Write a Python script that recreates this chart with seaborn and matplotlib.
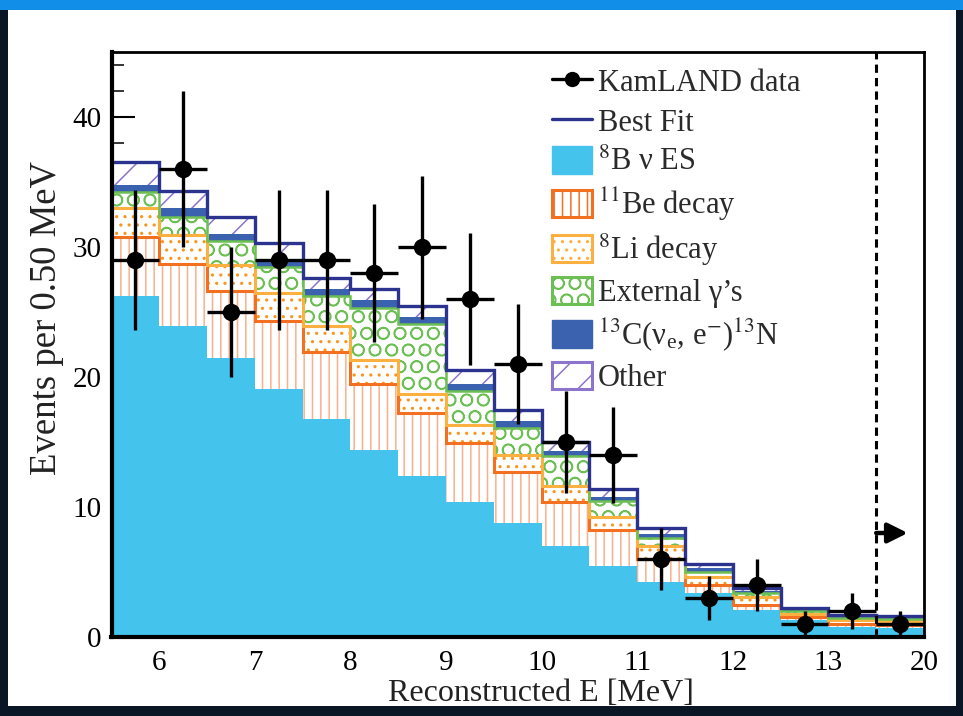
import numpy as np
import pandas as pd
import matplotlib
matplotlib.use("Agg")
import matplotlib.pyplot as plt
import seaborn as sns
from matplotlib.lines import Line2D
from matplotlib.patches import Patch, Rectangle
from matplotlib.ticker import MultipleLocator, FixedLocator

# ---------------- data ----------------
# 0.5 MeV bins from 5.5 to 13.5 MeV, last bin is 13.5-20 MeV drawn as 13.5-14
bin_edges = [5.5, 6.0, 6.5, 7.0, 7.5, 8.0, 8.5, 9.0, 9.5, 10.0, 10.5,
             11.0, 11.5, 12.0, 12.5, 13.0, 13.5, 14.0]
tick_positions = [6, 7, 8, 9, 10, 11, 12, 13, 14]
tick_labels = ["6", "7", "8", "9", "10", "11", "12", "13", "20"]

b8_es = [26.2, 23.9, 21.5, 19.1, 16.8, 14.4, 12.4, 10.4, 8.8, 7.0, 5.5, 4.2, 3.4, 2.1, 1.3, 0.8, 0.7]
be11 = [4.6, 4.8, 5.1, 5.2, 5.1, 5.1, 4.8, 4.5, 3.9, 3.4, 2.7, 1.8, 0.6, 0.4, 0.25, 0.2, 0.25]
li8 = [2.2, 2.2, 2.0, 2.2, 2.0, 1.8, 1.5, 1.4, 1.3, 1.2, 1.0, 1.0, 0.6, 0.6, 0.25, 0.3, 0.25]
ext_gamma = [1.2, 1.4, 1.9, 2.0, 2.3, 4.0, 5.4, 2.6, 2.1, 2.3, 1.3, 0.6, 0.4, 0.3, 0.2, 0.15, 0.15]
c13 = [0.6, 0.7, 0.5, 0.5, 0.6, 0.6, 0.5, 0.6, 0.5, 0.4, 0.3, 0.3, 0.3, 0.15, 0.1, 0.1, 0.1]
other = [1.7, 1.3, 1.3, 1.3, 0.8, 0.9, 0.9, 1.0, 0.9, 0.7, 0.6, 0.5, 0.3, 0.25, 0.15, 0.15, 0.15]

data_counts = [29, 36, 25, 29, 29, 28, 30, 26, 21, 15, 14, 6, 3, 4, 1, 2, 1]
data_err = [5.4, 6.0, 5.0, 5.4, 5.4, 5.3, 5.5, 5.1, 4.6, 3.9, 3.7, 2.4, 1.7, 2.0, 1.0, 1.4, 1.0]

# ---------------- style ----------------
sns.set_style("ticks")
plt.rcParams["font.family"] = ["Liberation Serif", "DejaVu Serif"]
plt.rcParams["mathtext.fontset"] = "stix"
plt.rcParams["hatch.linewidth"] = 1.1

C_B8 = "#44c3ec"
C_BE_EDGE = "#f37021"
C_BE_HATCH = "#f9b08c"
C_LI_EDGE = "#fbb040"
C_LI_HATCH = "#f6961e"
C_GAM = "#6cbf52"
C_C13 = "#3b62ae"
C_OTH = "#8d74cc"
C_FIT = "#2b338f"

edges = np.array(bin_edges)
centers = 0.5 * (edges[:-1] + edges[1:])
stack = np.cumsum(np.vstack([b8_es, be11, li8, ext_gamma, c13, other]), axis=0)

fig = plt.figure(figsize=(9.63, 7.16), dpi=100)
fig.patch.set_facecolor("white")
ax = fig.add_axes([111.5 / 963, 1 - 637 / 716, 812.5 / 963, 585 / 716])

layers = [
    (stack[5], dict(facecolor="white", edgecolor=C_OTH, hatch="/")),
    (stack[4], dict(facecolor=C_C13, edgecolor=C_C13)),
    (stack[3], dict(facecolor="white", edgecolor=C_GAM, hatch="O")),
    (stack[2], dict(facecolor="white", edgecolor=C_LI_HATCH, hatch="..")),
    (stack[1], dict(facecolor="white", edgecolor=C_BE_HATCH, hatch="||")),
    (stack[0], dict(facecolor=C_B8, edgecolor=C_B8)),
]
for i, (vals, kw) in enumerate(layers):
    df = pd.DataFrame({"E": centers, "w": vals})
    sns.histplot(data=df, x="E", weights="w", bins=bin_edges, element="step",
                 fill=True, alpha=1, linewidth=0, ax=ax, zorder=1 + i, **kw)

# outlines of components
ax.stairs(stack[1], edges, baseline=None, color=C_BE_EDGE, lw=2.2, zorder=8)
ax.stairs(stack[2], edges, baseline=None, color=C_LI_EDGE, lw=2.2, zorder=8)
ax.stairs(stack[3], edges, baseline=None, color=C_GAM, lw=1.8, zorder=8)
ax.stairs(stack[5], edges, baseline=None, color=C_FIT, lw=2.4, zorder=9)

# data
ax.errorbar(centers, data_counts, yerr=data_err, xerr=0.25, fmt="o",
            color="black", ms=11.5, elinewidth=2.4, capsize=0, zorder=12)

# threshold marker
ax.axvline(13.5, color="black", ls=(0, (2.7, 1.7)), lw=2.2, zorder=11)
ax.annotate("", xy=(13.83, 8), xytext=(13.5, 8),
            arrowprops=dict(arrowstyle="-|>", color="black", lw=3.2,
                            mutation_scale=30, shrinkA=0, shrinkB=0), zorder=12)

ax.set_xlim(5.5, 14)
ax.set_ylim(0, 45)
ax.xaxis.set_major_locator(FixedLocator(tick_positions))
ax.set_xticklabels(tick_labels)
ax.xaxis.set_minor_locator(MultipleLocator(0.2))
ax.yaxis.set_major_locator(MultipleLocator(10))
ax.yaxis.set_minor_locator(MultipleLocator(2))
ax.tick_params(axis="x", which="major", direction="in", length=11, width=1.5,
               labelsize=21, pad=9, colors="black")
ax.tick_params(axis="x", which="minor", direction="in", length=5, width=1.3)
ax.tick_params(axis="y", which="major", direction="in", length=16.5, width=1.5,
               labelsize=21, pad=7, colors="black")
ax.tick_params(axis="y", which="minor", direction="in", length=8.5, width=1.3)
for s in ax.spines.values():
    s.set_visible(True)
    s.set_color("black")
    s.set_linewidth(2.0)
    s.set_zorder(20)
ax.spines["left"].set_linewidth(3)
ax.spines["bottom"].set_linewidth(3)

ax.set_xlabel("Reconstructed E [MeV]", fontsize=23, color="#222222")
ax.set_ylabel("Events per 0.50 MeV", fontsize=26.5, color="#222222")
ax.xaxis.set_label_coords(0.528, -0.072)
ax.yaxis.set_label_coords(-0.058, 0.545)

handles = [
    Line2D([0], [0], color="black", marker="o", ms=10, lw=2.4),
    Line2D([0], [0], color=C_FIT, lw=2.4),
    Patch(facecolor=C_B8, edgecolor=C_B8),
    Patch(facecolor="white", edgecolor=C_BE_EDGE, hatch="||", lw=2.2),
    Patch(facecolor="white", edgecolor=C_LI_EDGE, hatch="..", lw=2.2),
    Patch(facecolor="white", edgecolor=C_GAM, hatch="O", lw=2.2),
    Patch(facecolor=C_C13, edgecolor=C_C13),
    Patch(facecolor="white", edgecolor=C_OTH, hatch="/", lw=2.2),
]
labels = [
    "KamLAND data",
    "Best Fit",
    r"$^{8}$B ν ES",
    r"$^{11}$Be decay",
    r"$^{8}$Li decay",
    "External γ’s",
    r"$^{13}$C(ν$_{\mathregular{e}}$, e$^{-}$)$^{13}$N",
    "Other",
]
leg = ax.legend(handles, labels, loc="upper left", bbox_to_anchor=(0.542, 0.975),
                frameon=False, fontsize=22, borderpad=0, borderaxespad=0,
                handlelength=1.3, handleheight=1.0, handletextpad=0.2,
                labelspacing=0.285)
for t in leg.get_texts():
    t.set_color("#2a2a2a")
leg.set_zorder(15)

# dark/blue photo frame around the figure
fig.add_artist(Rectangle((0, 0), 8 / 963, 1, transform=fig.transFigure,
                         facecolor="#0a1626", edgecolor="none", zorder=30))
fig.add_artist(Rectangle((1 - 7 / 963, 0), 7 / 963, 1, transform=fig.transFigure,
                         facecolor="#0a1626", edgecolor="none", zorder=30))
fig.add_artist(Rectangle((0, 0), 1, 10 / 716, transform=fig.transFigure,
                         facecolor="#0a1626", edgecolor="none", zorder=30))
fig.add_artist(Rectangle((0, 1 - 10 / 716), 1, 10 / 716, transform=fig.transFigure,
                         facecolor="#118fe8", edgecolor="none", zorder=30))

fig.savefig("out.png", dpi=100, facecolor="white")
